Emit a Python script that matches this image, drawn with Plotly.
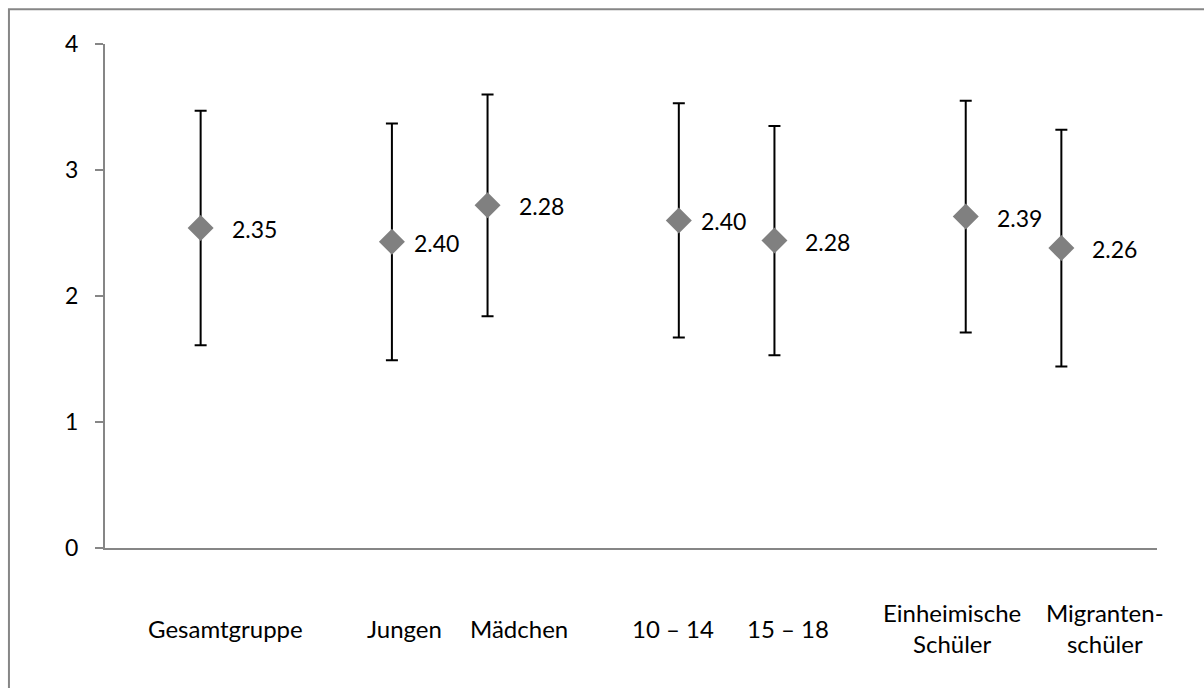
import plotly.graph_objects as go

# ---- data ----
categories = ["Gesamtgruppe", "Jungen", "Mädchen", "10 – 14", "15 – 18",
              "Einheimische<br>Schüler", "Migranten-<br>schüler"]
x_pos = [1, 3, 4, 6, 7, 9, 10]
means = [2.54, 2.43, 2.72, 2.60, 2.44, 2.63, 2.38]
errors = [0.93, 0.94, 0.88, 0.93, 0.91, 0.92, 0.94]
value_labels = ["2.35", "2.40", "2.28", "2.40", "2.28", "2.39", "2.26"]
y_ticks = [0, 1, 2, 3, 4]

# ---- layout helpers (positions, not data) ----
label_shift_px = [29, 20, 29, 20, 29, 29, 29]
cat_label_x = [1.255, 3.13, 4.33, 5.94, 7.14, 8.86, 10.46]

FONT = "Lato"
GRAY = "#868686"
FS = 23

fig = go.Figure()
fig.add_trace(go.Scatter(
    x=x_pos, y=means, mode="markers",
    marker=dict(symbol="diamond", size=20, color="#808080",
                line=dict(width=0)),
    error_y=dict(type="data", array=errors, visible=True,
                 color="black", thickness=2, width=6),
    showlegend=False, hoverinfo="skip",
))

annotations = []
for xv, yv, lab, sh in zip(x_pos, means, value_labels, label_shift_px):
    annotations.append(dict(
        x=xv, y=yv, xref="x", yref="y", text=lab, showarrow=False,
        xanchor="left", yanchor="middle", xshift=sh, yshift=-1,
        font=dict(family=FONT, size=FS, color="black")))

for cx, cat in zip(cat_label_x, categories):
    annotations.append(dict(
        x=cx, y=-0.159, xref="x", yref="paper", text=cat, showarrow=False,
        xanchor="center", yanchor="middle", align="center",
        font=dict(family=FONT, size=24, color="black")))

fig.update_layout(
    width=1204, height=688,
    margin=dict(l=105, r=47, t=44, b=140, pad=0),
    paper_bgcolor="white", plot_bgcolor="white",
    font=dict(family=FONT, size=FS, color="black"),
    annotations=annotations,
    xaxis=dict(range=[0, 11], showline=True, linecolor=GRAY, linewidth=2,
               showgrid=False, zeroline=False, showticklabels=False,
               ticks=""),
    yaxis=dict(range=[0, 4], tickvals=y_ticks, showline=True,
               linecolor=GRAY, linewidth=2, showgrid=False,
               zeroline=False, ticks="outside", ticklen=8,
               tickcolor=GRAY, tickwidth=2, ticklabelstandoff=12,
               tickfont=dict(family=FONT, size=FS, color="black")),
    shapes=[dict(type="rect", xref="paper", yref="paper",
                 x0=-0.0913, x1=1.3, y0=-0.4, y1=1.069,
                 line=dict(color=GRAY, width=2), layer="below")],
)

fig.write_html("out.html",
               config={"displayModeBar": False, "staticPlot": True},
               post_script="document.body.style.margin='0';"
                           "document.body.style.overflow='hidden';")
